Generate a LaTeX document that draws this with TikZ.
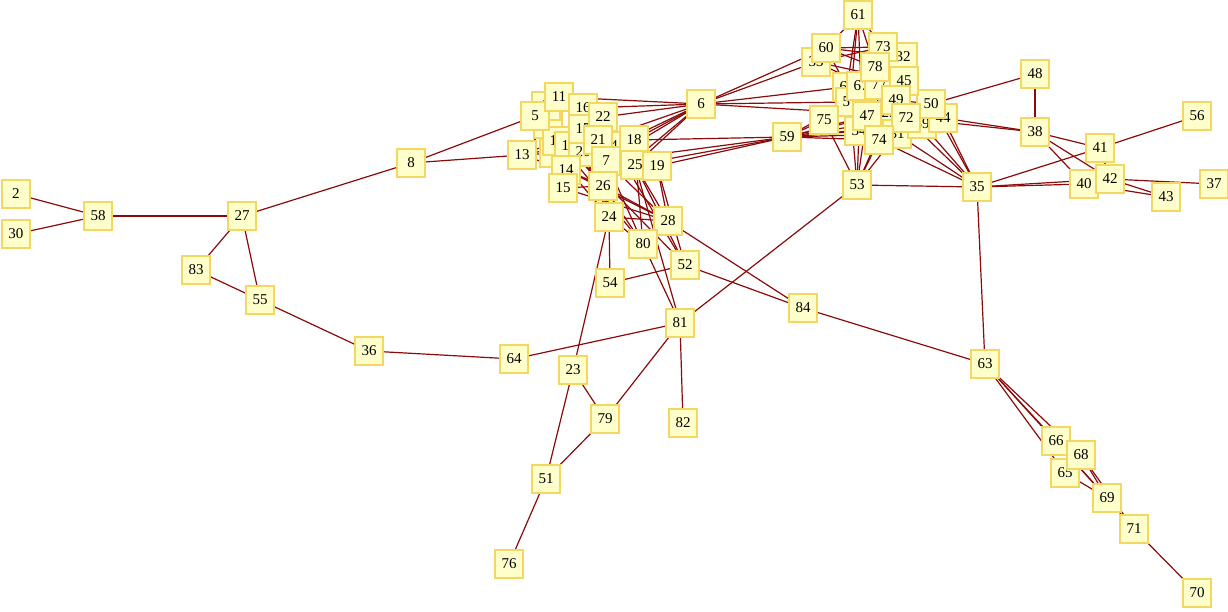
\documentclass[tikz,border=0pt]{standalone}
\usepackage{fontspec}
\setmainfont{Liberation Serif}
\pgfdeclarelayer{background}
\pgfsetlayers{background,main}
\definecolor{nfill}{HTML}{FFFFCC}
\definecolor{nline}{HTML}{F4D760}
\definecolor{edgec}{HTML}{8B0A0A}
\begin{document}
\begin{tikzpicture}[x=1pt,y=-1pt,
  nd/.style={rectangle,draw=nline,fill=nfill,line width=1.5pt,minimum size=28pt,inner sep=0pt,font=\fontsize{15}{16}\selectfont},
  ed/.style={draw=edgec,line width=1.2pt}]
\useasboundingbox (0,0) rectangle (1228,612);
% hidden nodes first
\foreach \n/\x/\y in {1/548/124, 3/546/106, 9/554/153, 4/614/146, 10/557/141, 12/569/146, 20/583/152,
  29/889/113, 46/884/100, 31/897/134, 33/816/62, 62/847/87, 57/850/102, 32/903/57, 39/922/124, 34/859/131} {
  \node[nd] (n\n) at (\x,\y) {\n};
}
\foreach \n/\x/\y in {2/16/194, 30/16/234, 58/98/216, 27/242/216, 83/196/270, 55/260/300, 36/369/351, 64/514/359,
  8/411/163, 13/522/155, 5/535/116, 11/559/97, 16/583/108, 17/583/129, 22/603/117, 21/598/140, 7/606/161,
  14/566/170, 15/563/188, 26/603/186, 18/634/140, 25/635/165, 19/657/166,
  6/701/104, 24/609/217, 28/668/221, 80/643/244, 52/685/265, 54/610/283, 84/803/308, 81/680/323, 82/683/423,
  23/573/370, 79/605/419, 51/546/479, 76/509/564, 59/787/137, 53/857/185, 35/977/187, 63/985/364,
  66/1056/441, 65/1065/473, 68/1081/455, 69/1107/498, 71/1134/529, 70/1197/593,
  48/1035/74, 38/1035/132, 41/1100/148, 40/1084/184, 42/1110/179, 43/1166/197, 37/1214/184, 56/1197/116,
  44/943/118, 50/931/104,
  61/858/15, 60/826/48, 73/883/47, 67/861/86, 77/879/85, 78/875/67, 45/904/81, 49/896/100,
  75/824/120, 47/867/116, 72/906/118, 74/879/140} {
  \node[nd] (n\n) at (\x,\y) {\n};
}
\begin{pgfonlayer}{background}
\foreach \a/\b in {2/58, 30/58, 58/27, 27/83, 27/55, 83/55, 27/8, 55/36, 36/64, 64/81, 8/5, 8/13,
  13/1, 13/10, 13/14, 13/9, 13/12, 5/1, 5/3, 11/16, 16/17, 17/21, 21/22, 3/20, 1/26, 9/15, 10/7, 12/26, 20/26,
  6/22, 6/16, 6/11, 6/18, 6/7, 6/25, 6/26, 6/4, 6/21,
  14/26, 15/26, 7/26, 1/21, 9/24, 14/28, 15/28, 20/24,
  26/24, 26/28, 26/80, 7/28, 7/80, 25/28, 25/52, 19/28, 19/52, 18/80, 12/52, 4/52, 10/80,
  24/54, 24/23, 24/28, 24/80, 54/52, 28/84, 52/84, 80/81, 25/81,
  19/59, 25/59, 18/59, 7/59,
  6/60, 6/33, 6/62, 6/44, 6/57,
  59/75, 59/34, 59/47, 59/74, 59/57, 59/72, 59/39, 59/31, 59/29,
  53/34, 53/74, 53/47, 53/57, 53/75, 53/31, 53/81, 53/35, 53/29,
  35/72, 35/39, 35/44, 35/74, 35/50, 35/63, 35/40, 35/41, 35/42, 35/31,
  38/48, 38/44, 38/72, 48/50, 38/41, 38/40, 38/42, 41/56, 41/42, 42/37, 42/43, 40/43,
  61/60, 61/62, 61/67, 61/57, 61/73, 61/78, 60/73, 60/32, 60/78, 60/62, 33/73, 33/45, 33/49,
  62/77, 67/45, 67/72, 57/77, 57/49, 73/32, 32/45, 78/45, 45/50, 49/50, 77/72, 47/72, 34/74, 74/31,
  72/39, 39/44, 50/44, 46/75, 29/44, 46/45, 75/49, 34/39,
  63/84, 63/66, 63/65, 63/68, 63/69, 66/69, 65/69, 68/69, 68/71, 69/71, 71/70,
  81/82, 81/79, 23/79, 23/51, 79/51, 51/76} {
  \draw[ed] (n\a) -- (n\b);
}
\end{pgfonlayer}
\end{tikzpicture}
\end{document}
